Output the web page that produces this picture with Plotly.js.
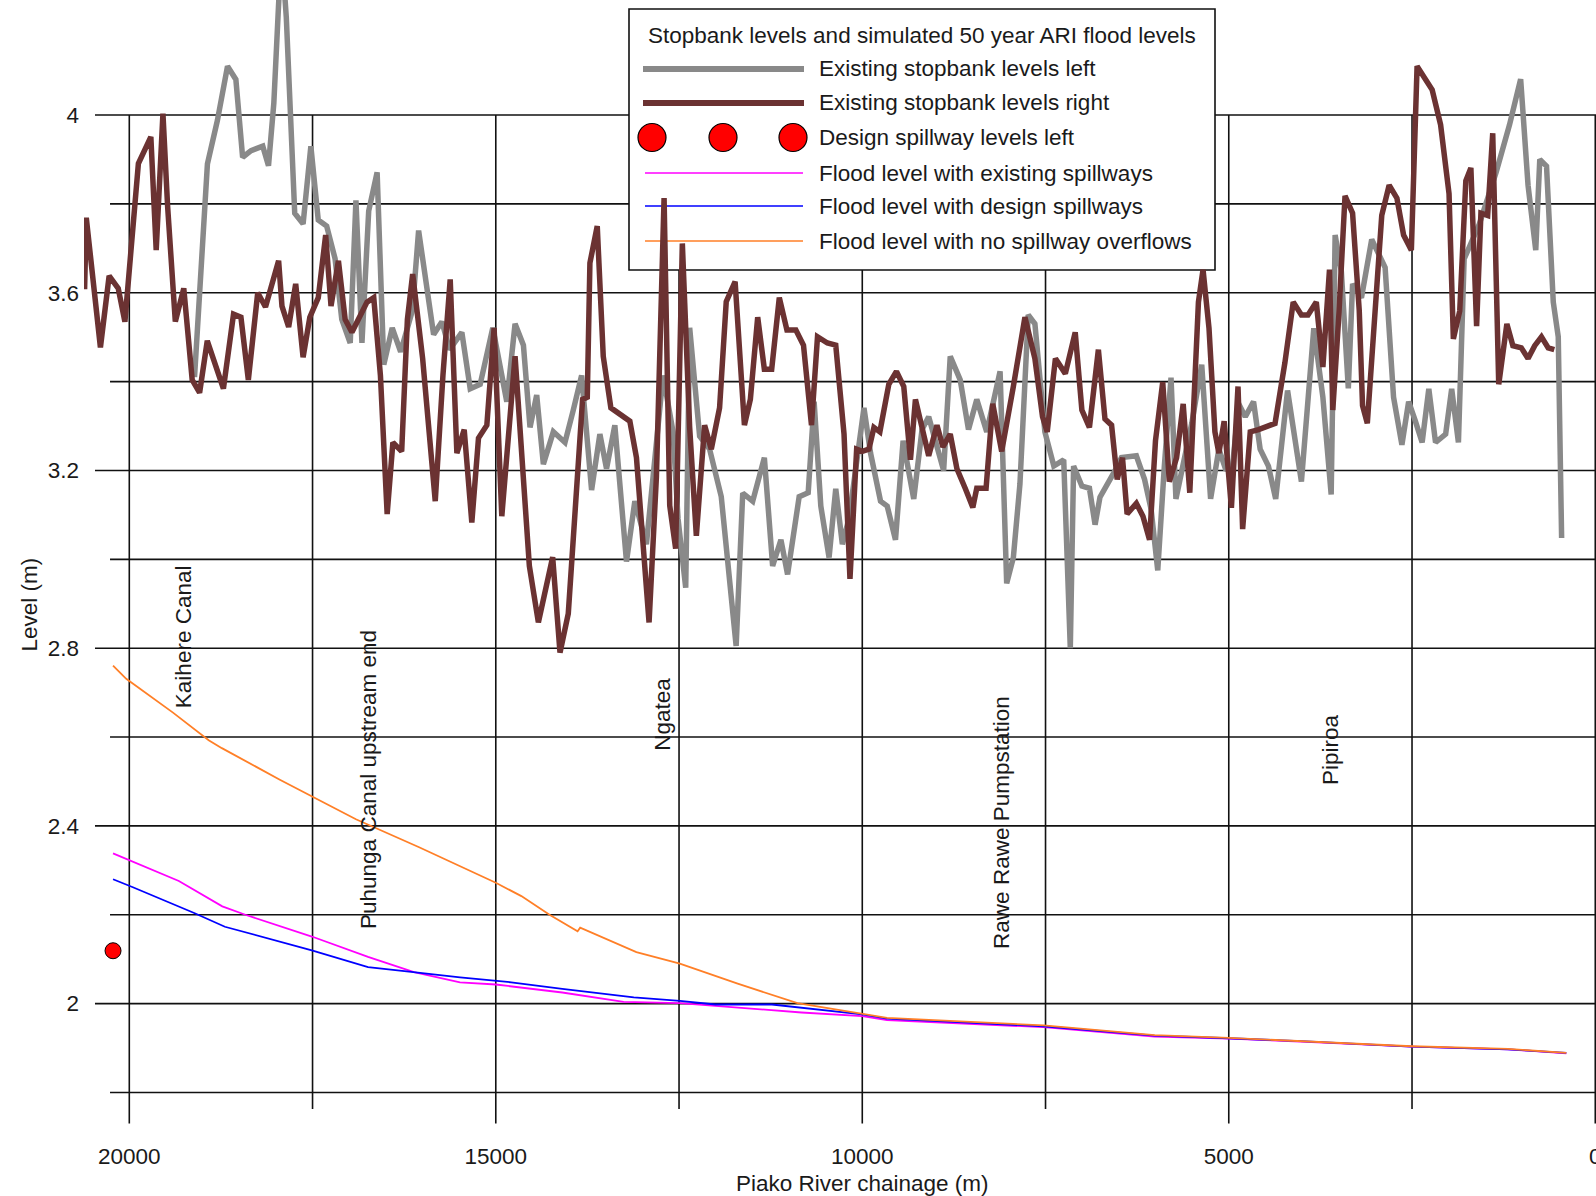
<!DOCTYPE html>
<html>
<head>
<meta charset="utf-8">
<script src="https://cdn.plot.ly/plotly-3.0.1.min.js"></script>
<style>html,body{margin:0;padding:0;background:#fff;}#chart{width:1596px;height:1196px;}</style>
</head>
<body>
<div id="chart"></div>
<script>
// ---------------- DATA ----------------
const leftChainage = [19110,18934,18798,18660,18546,18454,18339,18179,18101,18028,17925,17858,17743,17629,17523,17422,17307,17193,17101,16986,16908,16826,16734,16619,16528,16413,16298,16138,16053,15848,15735,15631,15463,15349,15213,15041,14850,14737,14623,14533,14442,14351,14215,14056,13943,13829,13693,13580,13489,13376,13217,13103,12945,12718,12582,12514,12409,12355,12219,12083,11924,11721,11631,11495,11336,11223,11110,11019,10861,10738,10657,10566,10453,10362,10272,10181,9977,9887,9751,9660,9547,9443,9298,9185,9094,8981,8890,8800,8664,8551,8438,8302,8120,8030,7939,7849,7736,7645,7509,7387,7252,7162,7117,7004,6901,6824,6757,6554,6464,6261,6149,6059,5969,5879,5788,5721,5608,5505,5369,5248,5135,5045,4955,4865,4775,4662,4572,4459,4360,4198,4009,3840,3716,3603,3549,3464,3369,3311,3190,3050,2867,2752,2638,2546,2454,2362,2271,2179,2041,1959,1867,1789,1583,1353,1170,1018,917,812,757,665,573,505,459];
const leftLevel = [3.41,3.89,3.988,4.11,4.08,3.905,3.92,3.93,3.886,4.027,4.38,4.22,3.779,3.755,3.93,3.764,3.75,3.677,3.54,3.487,3.808,3.487,3.784,3.871,3.438,3.521,3.467,3.56,3.74,3.506,3.535,3.472,3.511,3.384,3.394,3.521,3.355,3.53,3.482,3.297,3.37,3.214,3.287,3.263,3.336,3.414,3.156,3.282,3.204,3.302,2.995,3.131,3.034,3.414,3.287,3.092,2.936,3.521,3.277,3.248,3.141,2.805,3.149,3.131,3.229,2.985,3.044,2.966,3.141,3.15,3.355,3.12,3.004,3.159,3.034,3.092,3.341,3.239,3.131,3.12,3.044,3.267,3.136,3.292,3.321,3.248,3.2,3.457,3.404,3.292,3.36,3.287,3.423,2.946,3.004,3.17,3.55,3.53,3.287,3.21,3.224,2.80,3.21,3.165,3.16,3.078,3.14,3.199,3.229,3.233,3.18,3.112,2.975,3.21,3.409,3.136,3.229,3.306,3.438,3.136,3.248,3.204,3.199,3.35,3.321,3.355,3.248,3.21,3.136,3.38,3.175,3.52,3.365,3.146,3.73,3.647,3.385,3.62,3.589,3.72,3.657,3.365,3.258,3.355,3.311,3.263,3.384,3.263,3.282,3.384,3.263,3.676,3.754,3.871,3.978,4.081,3.842,3.696,3.9,3.885,3.579,3.501,3.048];

const rightChainage = [20610,20587,20394,20275,20151,20060,19876,19706,19633,19541,19477,19372,19257,19142,19041,18936,18716,18578,18477,18376,18248,18142,17963,17917,17826,17730,17629,17537,17422,17321,17248,17147,17055,16963,16757,16665,16574,16482,16404,16284,16206,16134,15998,15826,15721,15622,15531,15431,15327,15236,15122,15023,14918,14737,14542,14419,14224,14124,14011,13816,13752,13716,13616,13534,13430,13171,13081,12909,12809,12704,12627,12546,12455,12355,12264,12151,12060,11947,11856,11735,11608,11527,11427,11336,11236,11132,11028,10906,10802,10693,10611,10476,10362,10249,10168,10077,10000,9909,9841,9760,9638,9534,9434,9343,9275,9207,9094,8981,8900,8800,8709,8596,8492,8438,8311,8220,8098,7939,7781,7645,7541,7477,7365,7230,7095,7004,6901,6779,6689,6599,6522,6450,6387,6261,6171,6081,6000,5901,5811,5712,5622,5532,5414,5351,5270,5189,5135,5063,4964,4874,4811,4707,4594,4369,4234,4121,4009,3919,3806,3716,3626,3581,3500,3414,3311,3220,3175,3110,2913,2812,2706,2615,2509,2431,2225,2110,1995,1936,1849,1766,1697,1619,1560,1468,1399,1317,1206,1124,1009,917,826,734,642,559];
const rightLevel = [3.608,3.769,3.477,3.638,3.61,3.535,3.891,3.951,3.696,4.003,3.794,3.535,3.61,3.404,3.375,3.492,3.384,3.552,3.545,3.404,3.6,3.568,3.672,3.57,3.523,3.62,3.455,3.545,3.589,3.73,3.57,3.672,3.54,3.511,3.579,3.589,3.414,3.102,3.263,3.243,3.54,3.642,3.452,3.131,3.414,3.63,3.239,3.292,3.083,3.273,3.302,3.521,3.097,3.457,2.985,2.858,3.005,2.79,2.878,3.36,3.365,3.667,3.75,3.457,3.341,3.311,3.229,2.858,3.185,3.813,3.121,3.024,3.711,3.297,3.053,3.302,3.248,3.341,3.58,3.625,3.302,3.36,3.545,3.428,3.428,3.589,3.516,3.516,3.482,3.302,3.501,3.487,3.482,3.282,2.956,3.248,3.243,3.248,3.297,3.287,3.394,3.423,3.389,3.224,3.36,3.311,3.233,3.302,3.253,3.282,3.204,3.16,3.117,3.16,3.16,3.35,3.243,3.389,3.545,3.452,3.321,3.287,3.452,3.418,3.511,3.336,3.297,3.472,3.316,3.302,3.18,3.229,3.102,3.126,3.097,3.044,3.267,3.399,3.175,3.229,3.35,3.15,3.579,3.652,3.521,3.287,3.239,3.311,3.116,3.389,3.068,3.287,3.292,3.306,3.443,3.579,3.55,3.55,3.579,3.433,3.652,3.336,3.545,3.818,3.779,3.56,3.346,3.306,3.774,3.842,3.813,3.73,3.696,4.11,4.057,3.978,3.823,3.496,3.559,3.852,3.881,3.525,3.779,3.774,3.959,3.394,3.53,3.481,3.476,3.452,3.481,3.501,3.476,3.472];

const spillChainage = [20222];
const spillLevel = [2.119];

const existChainage = [20222,19986,19324,18731,18417,17510,16743,16116,15488,15000,14093,13256,12489,10829,10000,9663,7528,6012,5000,3946,2507,1191,395];
const existLevel = [2.338,2.322,2.276,2.219,2.2,2.151,2.105,2.071,2.048,2.043,2.025,2.004,2.001,1.98,1.972,1.963,1.947,1.926,1.921,1.914,1.903,1.897,1.888];

const designChainage = [20222,19951,19115,18696,17510,16743,16185,15488,14790,14093,13117,12489,12001,11233,10000,9663,7528,6012,5000,3946,2507,1191,395];
const designLevel = [2.28,2.262,2.204,2.173,2.12,2.082,2.072,2.059,2.048,2.033,2.014,2.006,1.998,1.998,1.976,1.966,1.949,1.928,1.922,1.915,1.903,1.897,1.889];

const noSpillChainage = [20222,20042,19404,18917,18737,17946,16908,16046,15000,14651,14267,13884,13849,13082,12489,11700,10885,10000,9663,7528,6012,5000,3946,2507,1191,395];
const noSpillLevel = [2.761,2.731,2.655,2.593,2.575,2.504,2.415,2.352,2.272,2.242,2.2,2.163,2.171,2.116,2.09,2.045,2.001,1.977,1.968,1.951,1.929,1.923,1.915,1.904,1.898,1.889];

const placeNames = ["Kaihere Canal","Puhunga Canal upstream end","Ngatea","Rawe Rawe Pumpstation","Pipiroa"];
const placeChainage = [19268,16740,12728,8094,3611];
const placeLabelLevel = [2.827,2.504,2.651,2.409,2.572];

const xTickVals = [20000,15000,10000,5000,0];
const xTickText = ["20000","15000","10000","5000","0"];
const yTickVals = [2,2.4,2.8,3.2,3.6,4];
const yTickText = ["2","2.4","2.8","3.2","3.6","4"];
const xGridVals = [20000,17500,15000,12500,10000,7500,5000,2500,0];
const yGridVals = [1.8,2.0,2.2,2.4,2.6,2.8,3.0,3.2,3.4,3.6,3.8,4.0];

const legendTitle = "Stopbank levels and simulated 50 year ARI flood levels";
const seriesNames = ["Existing stopbank levels left","Existing stopbank levels right","Design spillway levels left","Flood level with existing spillways","Flood level with design spillways","Flood level with no spillway overflows"];
const xTitle = "Piako River chainage (m)";
const yTitle = "Level (m)";

// ---------------- STYLE ----------------
const FONT = "Liberation Sans, Arial, sans-serif";
const TXT = "#1a1a1a";
const GRAY = "#898989", MAROON = "#6b3232", MAGENTA = "#ff00ff", BLUE = "#0000ff", ORANGE = "#ff7f27";
const W = 1596, H = 1196, ML = 84, MR = 0, MT = 0, MB = 56;
const PW = W - ML - MR, PH = H - MT - MB;
const XR = [20618, -10], YR = [1.693, 4.259];
const px = x => (x - ML) / PW;                 // pixel -> paper
const py = y => 1 - (y - MT) / PH;
const dx = x => XR[0] + (x - ML) / PW * (XR[1] - XR[0]);   // pixel -> data (for decorations drawn under traces)
const dy = y => YR[1] - (y - MT) / PH * (YR[1] - YR[0]);

const traces = [
  {x: leftChainage, y: leftLevel, mode: "lines", name: seriesNames[0], line: {color: GRAY, width: 5.5}},
  {x: rightChainage, y: rightLevel, mode: "lines", name: seriesNames[1], line: {color: MAROON, width: 5.5}},
  {x: spillChainage, y: spillLevel, mode: "markers", name: seriesNames[2], marker: {color: "#ff0000", size: 16, line: {color: "#000", width: 1}}},
  {x: existChainage, y: existLevel, mode: "lines", name: seriesNames[3], line: {color: MAGENTA, width: 1.8}},
  {x: designChainage, y: designLevel, mode: "lines", name: seriesNames[4], line: {color: BLUE, width: 1.8}},
  {x: noSpillChainage, y: noSpillLevel, mode: "lines", name: seriesNames[5], line: {color: ORANGE, width: 1.8}}
];

const shapes = [];
const GL = {color: "#111", width: 1.6};
yGridVals.forEach(v => {
  const labeled = yTickVals.some(t => Math.abs(t - v) < 1e-9);
  shapes.push({type: "line", layer: "below", xref: "x", yref: "y", x0: labeled ? 20468 : 20263, x1: -60, y0: v, y1: v, line: GL});
});
xGridVals.forEach(u => {
  const major = xTickVals.indexOf(u) >= 0;
  shapes.push({type: "line", layer: "below", xref: "x", yref: "y", x0: u, x1: u, y0: major ? 1.73 : 1.763, y1: 4.0, line: GL});
});
// legend box (data-referenced so it sits above the grid but under the traces)
shapes.push({type: "rect", layer: "below", xref: "x", yref: "y", x0: dx(629), x1: dx(1215), y0: dy(9), y1: dy(270), fillcolor: "#fff", line: GL});
const rowY = [69, 103, 137.5, 173, 206, 241];
shapes.push({type: "line", layer: "below", xref: "x", yref: "y", x0: dx(643), x1: dx(804), y0: dy(rowY[0]), y1: dy(rowY[0]), line: {color: GRAY, width: 6}});
shapes.push({type: "line", layer: "below", xref: "x", yref: "y", x0: dx(643), x1: dx(804), y0: dy(rowY[1]), y1: dy(rowY[1]), line: {color: MAROON, width: 6}});
[652, 723, 793].forEach(cx => {
  shapes.push({type: "circle", layer: "below", xref: "x", yref: "y", x0: dx(cx - 14), x1: dx(cx + 14), y0: dy(rowY[2] - 14), y1: dy(rowY[2] + 14), fillcolor: "#ff0000", line: {color: "#000", width: 1.2}});
});
[[MAGENTA, 3], [BLUE, 4], [ORANGE, 5]].forEach(([c, i]) => {
  shapes.push({type: "line", layer: "below", xref: "x", yref: "y", x0: dx(645), x1: dx(803), y0: dy(rowY[i]), y1: dy(rowY[i]), line: {color: c, width: 1.6}});
});

const F = {family: FONT, size: 22.5, color: TXT};
const annotations = [];
annotations.push({xref: "paper", yref: "paper", x: px(922), y: py(36), text: legendTitle, showarrow: false, xanchor: "center", yanchor: "middle", font: F});
seriesNames.forEach((n, i) => {
  annotations.push({xref: "paper", yref: "paper", x: px(817), y: py(rowY[i]), text: n, showarrow: false, xanchor: "left", yanchor: "middle", font: F});
});
placeNames.forEach((n, i) => {
  annotations.push({xref: "x", yref: "y", x: placeChainage[i], y: placeLabelLevel[i], text: n, textangle: -90, showarrow: false, xanchor: "center", yanchor: "middle", font: F});
});
// axis titles placed where the reference has them
annotations.push({xref: "paper", yref: "paper", x: px(862), y: py(1183), text: xTitle, showarrow: false, xanchor: "center", yanchor: "middle", font: F});
annotations.push({xref: "paper", yref: "paper", x: px(28.5), y: py(605), text: yTitle, textangle: -90, showarrow: false, xanchor: "center", yanchor: "middle", font: F});

const layout = {
  width: W, height: H,
  margin: {l: ML, r: MR, t: MT, b: MB, pad: 0},
  paper_bgcolor: "#fff", plot_bgcolor: "#fff",
  showlegend: false,
  font: F,
  xaxis: {
    range: XR, showgrid: false, zeroline: false, showline: false,
    tickvals: xTickVals, ticktext: xTickText, ticks: "", ticklabelstandoff: 0,
    ticklabeloverflow: "allow",
    tickfont: F, automargin: false
  },
  yaxis: {
    range: YR, showgrid: false, zeroline: false, showline: false,
    tickvals: yTickVals, ticktext: yTickText, ticks: "", ticklabelstandoff: 4,
    tickfont: F, automargin: false
  },
  shapes: shapes,
  annotations: annotations
};

Plotly.newPlot("chart", traces, layout, {displayModeBar: false, staticPlot: true});
</script>
</body>
</html>
